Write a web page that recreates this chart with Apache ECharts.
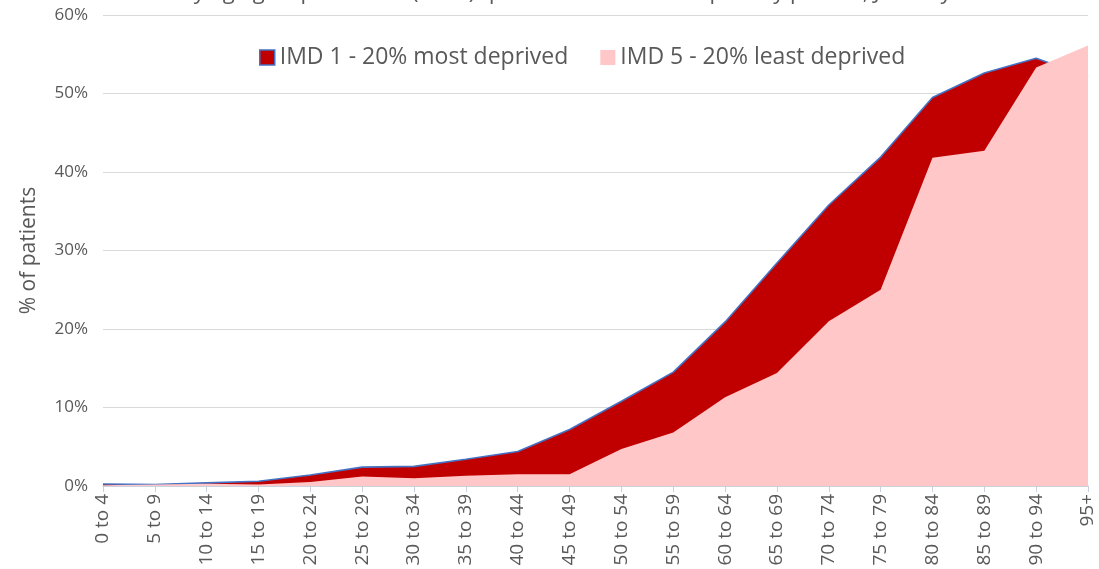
<!DOCTYPE html>
<html>
<head>
<meta charset="utf-8">
<script src="https://cdn.jsdelivr.net/npm/echarts@6/dist/echarts.min.js"></script>
<style>
  html, body { margin: 0; padding: 0; background: #fff; }
  #chart { width: 1099px; height: 569px; }
</style>
</head>
<body>
<div id="chart"></div>
<script>
// age bands
const ageBands = ["0 to 4", "5 to 9", "10 to 14", "15 to 19", "20 to 24", "25 to 29", "30 to 34",
  "35 to 39", "40 to 44", "45 to 49", "50 to 54", "55 to 59", "60 to 64", "65 to 69",
  "70 to 74", "75 to 79", "80 to 84", "85 to 89", "90 to 94", "95+"];

// % of patients
const imd1 = [0.25, 0.2, 0.4, 0.6, 1.4, 2.4, 2.5, 3.4, 4.4, 7.2, 10.8, 14.5, 20.9, 28.4,
  35.8, 41.9, 49.5, 52.6, 54.5, 52.1];
const imd5 = [0.1, 0.2, 0.3, 0.2, 0.5, 1.2, 1.0, 1.3, 1.5, 1.5, 4.7, 6.8, 11.3, 14.4,
  21.0, 25.0, 41.8, 42.7, 53.3, 56.1];

const yTicks = [0, 10, 20, 30, 40, 50, 60];

const font = "Open Sans";
const grey = "#595959";

const chart = echarts.init(document.getElementById("chart"));
chart.setOption({
  animation: false,
  textStyle: { fontFamily: font },
  title: {
    text: "Patients by age group and IMD (2019) quintile recorded as a priority patient, January 2023",
    left: "center",
    top: -23,
    textStyle: { fontFamily: font, fontSize: 22, fontWeight: "normal", color: grey }
  },
  legend: {
    top: 41,
    left: 254,
    itemWidth: 15,
    itemHeight: 15,
    itemGap: 32,
    textStyle: { fontFamily: font, fontSize: 23, color: grey },
    data: [
      { name: "IMD 1 - 20% most deprived", icon: "rect",
        itemStyle: { color: "#C00000", borderColor: "#4472C4", borderWidth: 1.5 } },
      { name: "IMD 5 - 20% least deprived", icon: "rect",
        itemStyle: { color: "#FFC7C7", borderWidth: 0 } }
    ]
  },
  grid: { left: 103, right: 11, top: 15, bottom: 83 },
  xAxis: {
    type: "category",
    data: ageBands,
    boundaryGap: false,
    axisLine: { lineStyle: { color: "#C8D0DC", width: 1.5 } },
    axisTick: { show: true, alignWithLabel: true, length: 6, lineStyle: { color: "#C8D0DC" } },
    axisLabel: { rotate: 90, fontSize: 19, color: grey, interval: 0, margin: 8 }
  },
  yAxis: {
    type: "value",
    min: 0,
    max: 60,
    interval: 10,
    name: "% of patients",
    nameLocation: "middle",
    nameGap: 63,
    nameTextStyle: { fontSize: 21, color: grey },
    axisLine: { show: false },
    axisTick: { show: false },
    axisLabel: {
      fontSize: 17, color: grey, margin: 15,
      formatter: v => yTicks.includes(v) ? v + "%" : ""
    },
    splitLine: { lineStyle: { color: "#D9D9D9", width: 1.2 } }
  },
  series: [
    {
      name: "IMD 1 - 20% most deprived",
      type: "line",
      data: imd1,
      symbol: "none",
      lineStyle: { color: "#4472C4", width: 1.6 },
      itemStyle: { color: "#C00000", borderColor: "#4472C4" },
      areaStyle: { color: "#C00000", opacity: 1 },
      z: 2
    },
    {
      name: "IMD 5 - 20% least deprived",
      type: "line",
      data: imd5,
      symbol: "none",
      lineStyle: { width: 0 },
      itemStyle: { color: "#FFC7C7" },
      areaStyle: { color: "#FFC7C7", opacity: 1 },
      z: 3
    }
  ]
});
window.addEventListener("resize", () => chart.resize());
</script>
</body>
</html>
